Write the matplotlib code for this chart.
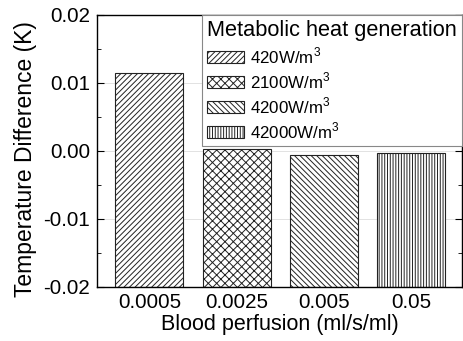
import matplotlib
matplotlib.use("Agg")
import matplotlib.pyplot as plt
import numpy as np

matplotlib.rcParams["font.family"] = ["Liberation Sans", "DejaVu Sans"]
matplotlib.rcParams["hatch.linewidth"] = 0.7
matplotlib.rcParams["mathtext.fontset"] = "custom"
matplotlib.rcParams["mathtext.rm"] = "Liberation Sans"

perfusion = ["0.0005", "0.0025", "0.005", "0.05"]
temp_diff = [0.0115, 0.00025, -0.00063, -0.00034]
heat_labels = ["420W/m$^3$", "2100W/m$^3$", "4200W/m$^3$", "42000W/m$^3$"]
hatches = ["//////", "xxxx", "\\\\\\\\\\\\", "||||||"]

ymin = -0.02

fig = plt.figure(figsize=(4.64, 3.41), dpi=100)
ax = fig.add_axes([97 / 464, 1 - 287 / 341, 365 / 464, 272 / 341])

x = np.arange(len(perfusion))
for i in range(len(perfusion)):
    ax.bar(x[i], temp_diff[i] - ymin, bottom=ymin, width=0.78,
           color="white", edgecolor="#222222", linewidth=0.8,
           hatch=hatches[i], label=heat_labels[i], zorder=2)

ax.set_xlim(-0.6, 3.58)
ax.set_ylim(-0.02, 0.02)
ax.set_xticks(x)
ax.set_xticklabels(perfusion)
ax.set_yticks([-0.02, -0.01, 0.0, 0.01, 0.02])
ax.set_yticklabels(["-0.02", "-0.01", "0.00", "0.01", "0.02"])
ax.set_yticks([-0.015, -0.005, 0.005, 0.015], minor=True)
ax.tick_params(axis="y", which="both", direction="in", right=True, labelsize=14.8, pad=5)
ax.tick_params(axis="y", which="major", length=5)
ax.tick_params(axis="y", which="minor", length=3)
ax.tick_params(axis="x", length=0, labelsize=14.8, pad=4)
ax.grid(True, axis="y", color="#dddddd", linewidth=0.6, zorder=0)
for s in ax.spines.values():
    s.set_linewidth(1.0)

ax.set_ylabel("Temperature Difference (K)", fontsize=16.5)
ax.yaxis.set_label_coords(-0.165, 0.47)
ax.set_xlabel("Blood perfusion (ml/s/ml)", fontsize=15.5, labelpad=2)

leg = ax.legend(title="Metabolic heat generation", loc="upper right",
                fontsize=12.2, title_fontsize=15.7, fancybox=False,
                framealpha=1, edgecolor="#888888", borderaxespad=0,
                handlelength=2.2, handleheight=0.7, handletextpad=0.3,
                labelspacing=0.26, borderpad=0.3, alignment="left")
leg.get_frame().set_linewidth(0.8)

fig.savefig("out.png", dpi=100)
